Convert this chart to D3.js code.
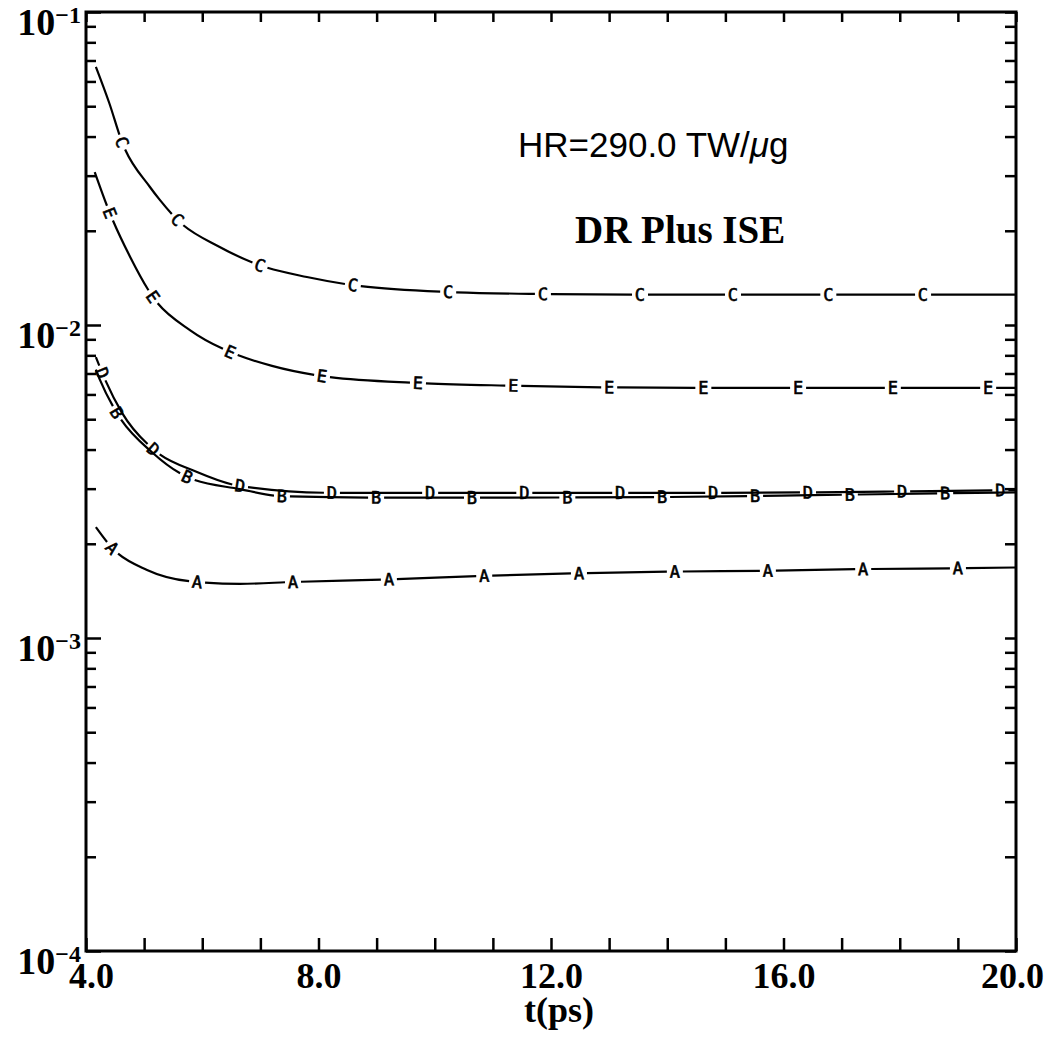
<!DOCTYPE html>
<html><head><meta charset="utf-8">
<script src="https://cdn.jsdelivr.net/npm/d3@7"></script>
<style>body{margin:0;background:#fff;} svg{display:block;}</style>
</head><body>
<svg id="chart" width="1056" height="1050"></svg>
<script>
// ---------- data ----------
const seriesNames = ["A", "B", "C", "D", "E"];

const tA = [4.17, 4.45, 5.05, 5.91, 6.65, 7.56, 9.21, 10.85, 12.48, 14.13, 15.73, 17.37, 19.0, 20.0];
const vA = [0.00226, 0.00194, 0.00165, 0.00151, 0.00149, 0.00151, 0.00154, 0.00158, 0.00161, 0.00163, 0.00164, 0.00166, 0.00167, 0.00168];

const tB = [4.17, 4.24, 4.53, 5.15, 5.74, 6.65, 7.37, 9.06, 11.0, 13.91, 16.5, 18.78, 20.0];
const vB = [0.0072, 0.00668, 0.00524, 0.0039, 0.00327, 0.00299, 0.00284, 0.00281, 0.00281, 0.00282, 0.00286, 0.00290, 0.00292];

const tC = [4.17, 4.4, 4.62, 5.1, 5.27, 5.57, 6.3, 7.0, 7.8, 8.6, 10.2, 11.9, 13.5, 15.0, 20.0];
const vC = [0.0668, 0.0512, 0.0384, 0.0276, 0.0251, 0.0217, 0.01775, 0.0155, 0.01423, 0.0134, 0.01275, 0.01256, 0.0125, 0.0125, 0.0125];

const tD = [4.17, 4.33, 4.62, 5.15, 5.91, 6.65, 8.23, 11.54, 14.79, 18.04, 20.0];
const vD = [0.0079, 0.00668, 0.00524, 0.00402, 0.00339, 0.00306, 0.00291, 0.00291, 0.00291, 0.00294, 0.00297];

const tE = [4.15, 4.41, 4.76, 5.15, 5.8, 6.48, 7.2, 8.06, 9.7, 11.3, 13.0, 14.6, 16.3, 18.0, 20.0];
const vE = [0.0308, 0.0228, 0.0165, 0.0123, 0.0096, 0.0082, 0.0074, 0.00687, 0.00653, 0.0064, 0.00632, 0.0063, 0.0063, 0.0063, 0.0063];

// positions (in t) of the letter markers on each curve
const labA = [4.45, 5.91, 7.56, 9.21, 10.85, 12.48, 14.13, 15.73, 17.37, 19.0];
const labB = [4.53, 5.74, 7.37, 8.99, 10.64, 12.28, 13.91, 15.51, 17.14, 18.78];
const labC = [4.62, 5.57, 6.99, 8.59, 10.23, 11.86, 13.53, 15.13, 16.77, 18.40];
const labD = [4.28, 5.16, 6.65, 8.23, 9.92, 11.54, 13.19, 14.79, 16.42, 18.04, 19.73];
const labE = [4.41, 5.15, 6.48, 8.06, 9.71, 11.35, 13.0, 14.62, 16.25, 17.88, 19.52];

const xTickValues = d3.range(4, 21, 1);
const xLabelValues = [4, 8, 12, 16, 20];
const xTickLabels = ["4.0", "8.0", "12.0", "16.0", "20.0"];
const yDecades = [1e-4, 1e-3, 1e-2, 1e-1];
const yDecadeExps = ["\u22124", "\u22123", "\u22122", "\u22121"];
const xTitle = "t(ps)";
const noteHR = "HR=290.0 TW/";
const noteTitle = "DR Plus ISE";

// ---------- layout ----------
const M = {left: 86, right: 1016, top: 12, bottom: 951};
const x = d3.scaleLinear().domain([4, 20]).range([M.left, M.right]);
const y = d3.scaleLog().domain([1e-4, 1e-1]).range([M.bottom, M.top]);
const svg = d3.select("#chart");
const SERIF = "'Liberation Serif','Times New Roman',serif";

const yMinor = [];
yDecades.slice(0, 3).forEach(d => { for (let k = 2; k <= 9; k++) yMinor.push(k * d); });
const yAll = yDecades.concat(yMinor);

function styleTicks(g, w) {
  g.select(".domain").remove();
  g.selectAll(".tick line").attr("stroke", "#000").attr("stroke-width", w);
}

// ticks (inward)
svg.append("g").attr("transform", `translate(0,${M.bottom})`)
  .call(d3.axisBottom(x).tickValues(xTickValues).tickSize(-13).tickFormat(""))
  .call(g => styleTicks(g, 2.5));
svg.append("g").attr("transform", `translate(0,${M.top})`)
  .call(d3.axisTop(x).tickValues(xTickValues).tickSize(-10).tickFormat(""))
  .call(g => styleTicks(g, 2.5));
svg.append("g").attr("transform", `translate(${M.left},0)`)
  .call(d3.axisLeft(y).tickValues(yDecades).tickSize(-15).tickFormat(""))
  .call(g => styleTicks(g, 2.5));
svg.append("g").attr("transform", `translate(${M.left},0)`)
  .call(d3.axisLeft(y).tickValues(yMinor).tickSize(-10).tickFormat(""))
  .call(g => styleTicks(g, 2.5));
svg.append("g").attr("transform", `translate(${M.right},0)`)
  .call(d3.axisRight(y).tickValues(yAll).tickSize(-11).tickFormat(""))
  .call(g => styleTicks(g, 2.5));

// x labels
const gxl = svg.append("g").attr("transform", `translate(0,${M.bottom})`)
  .call(d3.axisBottom(x).tickValues(xLabelValues).tickSize(0).tickFormat((d, i) => xTickLabels[i]));
gxl.select(".domain").remove();
gxl.selectAll("text").attr("y", 37).attr("dy", null)
  .attr("dx", (d, i) => i === 0 ? 5 : (i === xLabelValues.length - 1 ? -4 : 0))
  .attr("fill", "#000")
  .style("font-family", SERIF)
  .style("font-weight", "bold").style("font-size", "36px");

// y labels
const gyl = svg.append("g").attr("transform", `translate(${M.left},0)`)
  .call(d3.axisLeft(y).tickValues(yDecades).tickSize(0).tickFormat(""));
gyl.select(".domain").remove();
gyl.selectAll(".tick text").each(function(d, i) {
  const t = d3.select(this);
  t.text(null).attr("x", -5).attr("y", 22).attr("dy", null)
    .attr("text-anchor", "end").attr("fill", "#000")
    .style("font-family", SERIF)
    .style("font-weight", "bold").style("font-size", "38px");
  t.append("tspan").text("10");
  t.append("tspan").attr("dy", -12).style("font-size", "24px").text(yDecadeExps[i]);
});

// frame
svg.append("rect").attr("x", M.left).attr("y", M.top)
  .attr("width", M.right - M.left).attr("height", M.bottom - M.top)
  .attr("fill", "none").attr("stroke", "#000").attr("stroke-width", 3);

// x title
svg.append("text").attr("x", 559).attr("y", 1022).attr("text-anchor", "middle")
  .style("font-family", SERIF)
  .style("font-weight", "bold").style("font-size", "36px").text(xTitle);

// annotations
const hr = svg.append("text").attr("x", 518).attr("y", 157)
  .style("font-family", "'Liberation Sans',Arial,sans-serif").style("font-size", "35px");
hr.append("tspan").text(noteHR);
hr.append("tspan").style("font-style", "italic").text("\u03BC");
hr.append("tspan").text("g");
svg.append("text").attr("x", 575).attr("y", 243)
  .style("font-family", SERIF)
  .style("font-weight", "bold").style("font-size", "39px").text(noteTitle);

// ---------- curves ----------
const seriesT = {A: tA, B: tB, C: tC, D: tD, E: tE};
const seriesV = {A: vA, B: vB, C: vC, D: vD, E: vE};
const seriesLab = {A: labA, B: labB, C: labC, D: labD, E: labE};

const line = d3.line().x(d => x(d.t)).y(d => y(d.v)).curve(d3.curveMonotoneX);
const gap = 8;

seriesNames.forEach(name => {
  const pts = seriesT[name].map((t, i) => ({t, v: seriesV[name][i]}));
  const path = svg.append("path").datum(pts).attr("d", line)
    .attr("fill", "none").attr("stroke", "#000").attr("stroke-width", 2.2);
  const node = path.node();
  const L = node.getTotalLength();
  const lens = seriesLab[name].map(t => {
    const px = x(t);
    let lo = 0, hi = L;
    for (let k = 0; k < 40; k++) {
      const mid = (lo + hi) / 2;
      if (node.getPointAtLength(mid).x < px) lo = mid; else hi = mid;
    }
    return (lo + hi) / 2;
  });
  const dash = [];
  let prev = 0;
  lens.forEach(s => {
    dash.push(Math.max(0, s - gap - prev), 2 * gap);
    prev = s + gap;
  });
  dash.push(Math.max(0, L - prev) + 10, 0);
  path.attr("stroke-dasharray", dash.join(","));
  lens.forEach(s => {
    const p = node.getPointAtLength(s);
    const p1 = node.getPointAtLength(Math.max(0, s - 3));
    const p2 = node.getPointAtLength(Math.min(L, s + 3));
    const ang = Math.atan2(p2.y - p1.y, p2.x - p1.x) * 180 / Math.PI;
    svg.append("text")
      .attr("transform", `translate(${p.x},${p.y}) rotate(${ang})`)
      .attr("text-anchor", "middle").attr("dominant-baseline", "central")
      .attr("stroke", "#000").attr("stroke-width", 0.6)
      .style("font-family", "'DejaVu Sans Mono',monospace").style("font-size", "17px")
      .text(name);
  });
});
</script>
</body></html>
